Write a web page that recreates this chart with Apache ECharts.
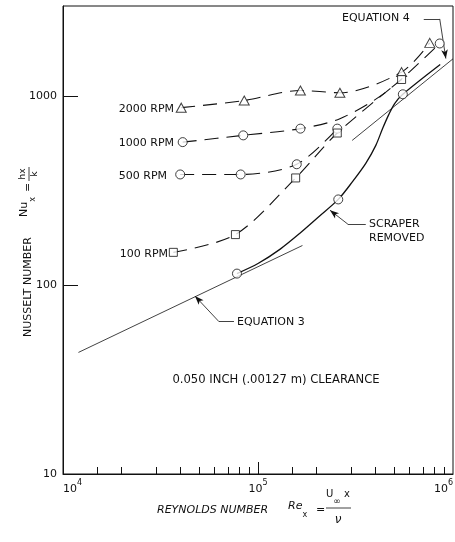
<!DOCTYPE html>
<html><head><meta charset="utf-8">
<script src="https://cdn.jsdelivr.net/npm/echarts@6/dist/echarts.min.js"></script>
<style>html,body{margin:0;padding:0;background:#fff}#c{width:455px;height:542px}</style>
</head><body><div id="c"></div>
<script>
// ---- axis ticks / labels ----
const xTicksMinor = [1.5e4,2e4,3e4,4e4,5e4,6e4,7e4,8e4,9e4,1.5e5,2e5,3e5,4e5,5e5,6e5,7e5,8e5,9e5];
const xTicksMajor = [1e5];
const xLabels = [1e4,1e5,1e6];
const yTicks = [100,1000];
const yLabels = [10,100,1000];

// ---- 2000 RPM (triangles) ----
const rpm2000Re = [4.04e4, 8.5e4, 1.65e5, 2.63e5, 5.45e5, 7.6e5];
const rpm2000Nu = [869, 948, 1072, 1042, 1340, 1914];
// ---- 1000 RPM (circles) ----
const rpm1000Re = [4.11e4, 8.4e4, 1.65e5, 8.55e5];
const rpm1000Nu = [571, 620, 673, 1900];
const rpm1000PathRe = [4.11e4, 8.4e4, 1.65e5, 2.63e5, 4.47e5, 8.55e5];
const rpm1000PathNu = [571, 620, 673, 760, 1040, 1900];
// ---- 500 RPM (circles) ----
const rpm500Re = [3.99e4, 8.15e4, 1.58e5, 2.55e5];
const rpm500Nu = [385, 385, 436, 673];
// ---- 100 RPM (squares) ----
const rpm100Re = [3.68e4, 7.66e4, 1.56e5, 2.55e5, 5.45e5];
const rpm100Nu = [149, 185, 369, 638, 1225];
// ---- scraper removed (solid curve + circles) ----
const scraperPathRe = [7.8e4, 1.0e5, 1.3e5, 1.64e5, 2.07e5, 2.58e5, 3.06e5, 3.57e5, 4.02e5, 4.36e5, 4.69e5, 5.03e5, 5.53e5, 8.6e5];
const scraperPathNu = [115, 130, 155, 188, 232, 284, 354, 441, 549, 676, 801, 916, 1023, 1470];
const scraperRe = [7.8e4, 2.58e5, 5.53e5];
const scraperNu = [115, 284, 1023];
// ---- equations ----
const eq3Re = [1.2e4, 1.69e5];
const eq3Nu = [44, 162];
const eq4Re = [3.04e5, 1e6];
const eq4Nu = [583, 1576];
// ---- annotation leaders (data coords) ----
const scraperLeaderRe = [3.57e5, 2.89e5, 2.34e5];
const scraperLeaderNu = [210, 210, 249];
const eq3LeaderRe = [7.53e4, 6.31e4, 4.75e4];
const eq3LeaderNu = [64, 64, 87.5];
const eq4LeaderRe = [7.08e5, 8.55e5, 9.19e5];
const eq4LeaderNu = [2563, 2563, 1581];

const FONT = 'DejaVu Sans';
const INK = '#111';
const pair = (xs, ys) => xs.map((x, i) => [x, ys[i]]);
const dashed = {type: [14, 8], width: 1.1, color: INK};
const mk = {color: '#fff', borderColor: INK, borderWidth: 1};

function leader(xs, ys) {
  return [
    [{coord: [xs[0], ys[0]], symbol: 'none'}, {coord: [xs[1], ys[1]], symbol: 'none'}],
    [{coord: [xs[1], ys[1]], symbol: 'none'}, {coord: [xs[2], ys[2]], symbol: 'arrow', symbolSize: [5, 9]}]
  ];
}

const chart = echarts.init(document.getElementById('c'), null, {renderer: 'canvas'});

const txt = (x, y, text, extra) => ({
  type: 'text', x, y, silent: true,
  style: Object.assign({text, fontFamily: FONT, fontSize: 11, fill: INK, textAlign: 'left', textVerticalAlign: 'middle'}, extra || {})
});

const option = {
  animation: false,
  backgroundColor: '#fff',
  grid: {left: 63, right: 2, top: 6, bottom: 68, show: true, borderColor: INK, borderWidth: 1, outerBoundsMode: 'none'},
  xAxis: [
    {
      type: 'log', logBase: 10, min: 1e4, max: 1e6,
      axisLine: {lineStyle: {color: INK, width: 1}},
      splitLine: {show: false},
      minorTick: {show: false},
      axisTick: {inside: true, length: 7, customValues: xTicksMinor, lineStyle: {color: INK}},
      axisLabel: {
        customValues: xLabels, margin: 5, color: INK,
        alignMinLabel: 'left', alignMaxLabel: 'right',
        formatter: v => '{b|10}{s|' + Math.round(Math.log10(v)) + '}',
        rich: {
          b: {fontFamily: FONT, fontSize: 11, color: INK, lineHeight: 16, verticalAlign: 'bottom'},
          s: {fontFamily: FONT, fontSize: 8, color: INK, lineHeight: 16, verticalAlign: 'top'}
        }
      }
    },
    {
      type: 'log', logBase: 10, min: 1e4, max: 1e6, position: 'bottom',
      axisLine: {show: false}, splitLine: {show: false},
      axisTick: {inside: true, length: 12, customValues: xTicksMajor, lineStyle: {color: INK}},
      axisLabel: {show: false}
    }
  ],
  yAxis: {
    type: 'log', logBase: 10, min: 10, max: 3000,
    axisLine: {lineStyle: {color: INK, width: 1}},
    splitLine: {show: false},
    axisTick: {inside: true, length: 15, customValues: yTicks, lineStyle: {color: INK}},
    axisLabel: {customValues: yLabels, margin: 6, color: INK, fontFamily: FONT, fontSize: 11, formatter: v => String(Math.round(v))}
  },
  series: [
    {
      name: 'Equation 3', type: 'line', data: pair(eq3Re, eq3Nu), symbol: 'none',
      lineStyle: {color: INK, width: 0.8}, silent: true,
      markLine: {
        silent: true, animation: false, label: {show: false},
        lineStyle: {color: INK, width: 0.8, type: 'solid'},
        itemStyle: {color: INK},
        emphasis: {disabled: true},
        data: [].concat(leader(scraperLeaderRe, scraperLeaderNu), leader(eq3LeaderRe, eq3LeaderNu), leader(eq4LeaderRe, eq4LeaderNu))
      }
    },
    {name: 'Equation 4', type: 'line', data: pair(eq4Re, eq4Nu), symbol: 'none', lineStyle: {color: INK, width: 0.8}, silent: true},
    {name: 'Scraper removed', type: 'line', data: pair(scraperPathRe, scraperPathNu), symbol: 'none', smooth: 0.3,
      lineStyle: {color: INK, width: 1.3}, silent: true},
    {name: 'Scraper pts', type: 'scatter', data: pair(scraperRe, scraperNu), symbol: 'circle', symbolSize: 9, itemStyle: mk, z: 5, silent: true},

    {name: '2000 RPM', type: 'line', data: pair(rpm2000Re, rpm2000Nu), symbol: 'none', smooth: 0.3, lineStyle: dashed, silent: true},
    {name: '2000 RPM pts', type: 'scatter', data: pair(rpm2000Re, rpm2000Nu), symbol: 'triangle', symbolSize: [10, 9], itemStyle: mk, z: 5, silent: true},

    {name: '1000 RPM', type: 'line', data: pair(rpm1000PathRe, rpm1000PathNu), symbol: 'none', smooth: 0.3, lineStyle: dashed, silent: true},
    {name: '1000 RPM pts', type: 'scatter', data: pair(rpm1000Re, rpm1000Nu), symbol: 'circle', symbolSize: 9, itemStyle: mk, z: 5, silent: true},

    {name: '500 RPM', type: 'line', data: pair(rpm500Re, rpm500Nu), symbol: 'none', smooth: 0.3, lineStyle: dashed, silent: true},
    {name: '500 RPM pts', type: 'scatter', data: pair(rpm500Re, rpm500Nu), symbol: 'circle', symbolSize: 9, itemStyle: mk, z: 5, silent: true},

    {name: '100 RPM', type: 'line', data: pair(rpm100Re, rpm100Nu), symbol: 'none', smooth: 0.3, lineStyle: dashed, silent: true},
    {name: '100 RPM pts', type: 'scatter', data: pair(rpm100Re, rpm100Nu), symbol: 'rect', symbolSize: 8, itemStyle: mk, z: 5, silent: true}
  ],
  graphic: [
    txt(174, 109, '2000 RPM', {textAlign: 'right'}),
    txt(174, 143, '1000 RPM', {textAlign: 'right'}),
    txt(167, 176, '500 RPM', {textAlign: 'right'}),
    txt(168, 254, '100 RPM', {textAlign: 'right'}),
    txt(369, 224, 'SCRAPER'),
    txt(369, 238, 'REMOVED'),
    txt(237, 322, 'EQUATION 3'),
    txt(342, 18, 'EQUATION 4'),
    txt(276, 380, '0.050 INCH (.00127 m) CLEARANCE', {textAlign: 'center', fontSize: 11.6}),
    // x-axis title
    txt(157, 510, 'REYNOLDS NUMBER', {fontStyle: 'italic'}),
    {type: 'text', x: 288, y: 510, silent: true, style: {
      text: '{i|Re}{sb|x}', textVerticalAlign: 'middle',
      rich: {i: {fontFamily: FONT, fontSize: 11, fontStyle: 'italic', fill: INK, lineHeight: 18, verticalAlign: 'top'},
             sb: {fontFamily: FONT, fontSize: 8, fill: INK, lineHeight: 18, verticalAlign: 'bottom'}}}},
    txt(316, 510, '='),
    {type: 'text', x: 338, y: 498, silent: true, style: {
      text: '{n|U}{sb|∞}{n| x}', textAlign: 'center', textVerticalAlign: 'middle',
      rich: {n: {fontFamily: FONT, fontSize: 10, fill: INK, lineHeight: 17, verticalAlign: 'top'},
             sb: {fontFamily: FONT, fontSize: 9, fill: INK, lineHeight: 17, verticalAlign: 'bottom'}}}},
    {type: 'line', silent: true, shape: {x1: 326, y1: 508, x2: 351, y2: 508}, style: {stroke: INK, lineWidth: 0.8}},
    txt(338, 520, 'ν', {textAlign: 'center', fontStyle: 'italic', fontSize: 12}),
    // y-axis title (rotated)
    {type: 'group', x: 28, y: 250, rotation: Math.PI / 2, silent: true, children: [
      txt(-87, 0, 'NUSSELT NUMBER'),
      {type: 'text', x: 33, y: 0, style: {
        text: '{n|Nu}{sb|x}', textVerticalAlign: 'middle',
        rich: {n: {fontFamily: FONT, fontSize: 11, fill: INK, lineHeight: 18, verticalAlign: 'top'},
               sb: {fontFamily: FONT, fontSize: 8, fill: INK, lineHeight: 18, verticalAlign: 'bottom'}}}},
      txt(58, 0, '='),
      txt(76, -5, 'hx', {textAlign: 'center', fontSize: 9}),
      {type: 'line', shape: {x1: 69, y1: 1, x2: 83, y2: 1}, style: {stroke: INK, lineWidth: 0.8}},
      txt(76, 7, 'k', {textAlign: 'center', fontSize: 9})
    ]}
  ]
};
chart.setOption(option);
</script>
</body></html>
